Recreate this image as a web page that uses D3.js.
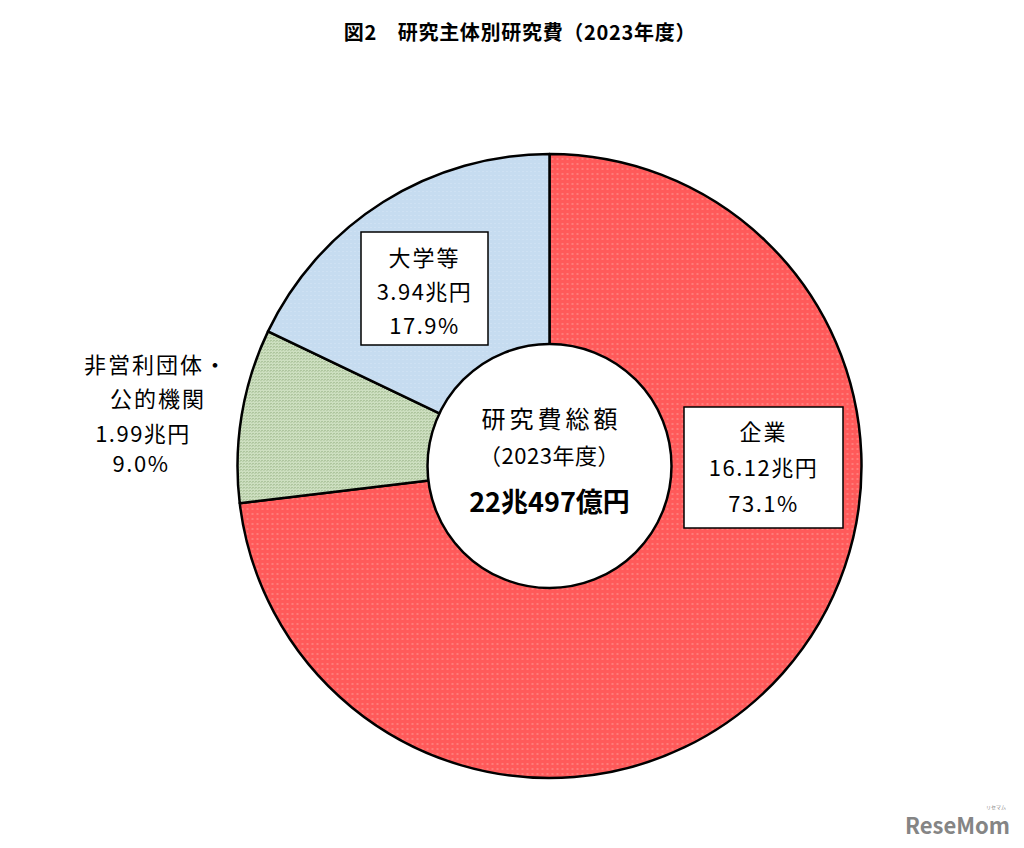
<!DOCTYPE html>
<html><head><meta charset="utf-8">
<script src="https://cdn.jsdelivr.net/npm/d3@7"></script>
<style>
body{margin:0;background:#fff;}
text{font-family:"Noto Sans CJK JP","Noto Sans",sans-serif;fill:#000;}
</style></head>
<body>
<svg id="c" width="1024" height="848"></svg>
<script>
const categories = ["企業", "非営利団体・公的機関", "大学等"];
const shares = [73.1, 9.0, 17.9];
const amounts = ["16.12兆円", "1.99兆円", "3.94兆円"];
const shareLabels = ["73.1%", "9.0%", "17.9%"];
const title = "図2　研究主体別研究費（2023年度）";
const centerLines = ["研究費総額", "（2023年度）", "22兆497億円"];

const svg = d3.select("#c");
const defs = svg.append("defs");
const pr = defs.append("pattern").attr("id","pRed").attr("width",5).attr("height",5).attr("patternUnits","userSpaceOnUse");
pr.append("rect").attr("width",5).attr("height",5).attr("fill","#ff5a5a");
pr.append("rect").attr("x",2).attr("y",2).attr("width",2).attr("height",2).attr("fill","#ff7c7a");
const pg = defs.append("pattern").attr("id","pGreen").attr("width",3).attr("height",3).attr("patternUnits","userSpaceOnUse");
pg.append("rect").attr("width",3).attr("height",3).attr("fill","#cddfc0");
pg.append("rect").attr("x",0).attr("y",0).attr("width",1).attr("height",1).attr("fill","#8faa7c");
pg.append("rect").attr("x",2).attr("y",1).attr("width",1).attr("height",1).attr("fill","#a9c098");
const pb = defs.append("pattern").attr("id","pBlue").attr("width",4).attr("height",4).attr("patternUnits","userSpaceOnUse");
pb.append("rect").attr("width",4).attr("height",4).attr("fill","#c6dcf0");
pb.append("rect").attr("x",1).attr("y",1).attr("width",1).attr("height",1).attr("fill","#d6e6f5");
const fills = ["url(#pRed)", "url(#pGreen)", "url(#pBlue)"];

svg.append("text").attr("x",520).attr("y",40).attr("text-anchor","middle")
  .attr("font-size",20).attr("font-weight","bold").attr("letter-spacing",0.7).text(title);

const cx = 549.5, cy = 466, R = 312, r0 = 122;
const pie = d3.pie().sort(null).value(d=>d);
const arcs = pie(shares);
const arc = d3.arc().innerRadius(0).outerRadius(R);
const g = svg.append("g").attr("transform",`translate(${cx},${cy})`);
g.selectAll("path.s").data(arcs).join("path").attr("class","s")
  .attr("d",arc).attr("fill",(d,i)=>fills[i]).attr("stroke","#000").attr("stroke-width",2.5).attr("stroke-linejoin","round");
g.append("circle").attr("r",r0).attr("fill","#fff").attr("stroke","#000").attr("stroke-width",2.5);

g.append("text").attr("x",2).attr("y",-38).attr("text-anchor","middle").attr("font-size",24).attr("letter-spacing",4).text(centerLines[0]);
g.append("text").attr("x",0).attr("y",-2).attr("text-anchor","middle").attr("font-size",22).attr("letter-spacing",0.5).text(centerLines[1]);
g.append("text").attr("x",0).attr("y",46).attr("text-anchor","middle").attr("font-size",27).attr("font-weight","bold").text(centerLines[2]);

function box(x,y,w,h,lines,b0,step){
  svg.append("rect").attr("x",x).attr("y",y).attr("width",w).attr("height",h)
    .attr("fill","#fff").attr("stroke","#000").attr("stroke-width",1.5);
  lines.forEach((t,i)=>{
    svg.append("text").attr("x",x+w/2).attr("y",y+b0+i*step).attr("text-anchor","middle")
      .attr("font-size",22).attr("letter-spacing",i===0?2:1.5).text(t);
  });
}
box(684,407,159,121,[categories[0],amounts[0],shareLabels[0]],33,36);
box(361,232,127,113,[categories[2],amounts[2],shareLabels[2]],34,34);

const nl = ["非営利団体・","公的機関"];
const lab = (x,y,t,ls)=>svg.append("text").attr("x",x).attr("y",y).attr("text-anchor","middle").attr("font-size",22).attr("letter-spacing",ls).text(t);
lab(156,373,nl[0],2);
lab(158,407,nl[1],2);
lab(143,442,amounts[1],1.5);
lab(141,472,shareLabels[1],1.5);

svg.append("text").attr("x",1010).attr("y",834).attr("text-anchor","end").attr("font-size",22)
  .attr("font-weight","bold").style("fill","#858585").attr("font-family","Lato, sans-serif").text("ReseMom");
svg.append("text").attr("x",1006).attr("y",809).attr("text-anchor","end").attr("font-size",5)
  .style("fill","#858585").text("リセマム");
</script>
</body></html>
